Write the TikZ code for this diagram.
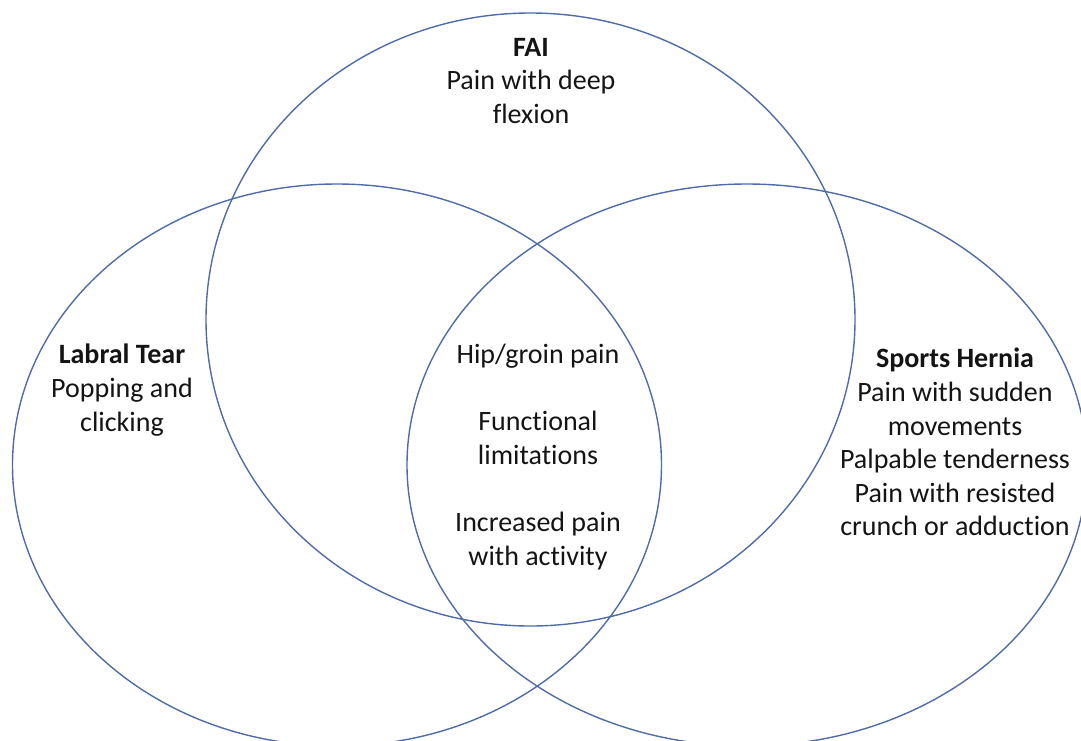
\documentclass[tikz,border=0pt]{standalone}
\usepackage{fontspec}
\setmainfont{Carlito}[Ligatures=NoCommon]
\definecolor{ring}{RGB}{78,108,168}
\definecolor{ink}{RGB}{20,20,20}
\newcommand{\nolig}{\kern0pt }
\begin{document}
\begin{tikzpicture}[x=1pt,y=-1pt,
  ringline/.style={draw=ring,line width=1.4pt},
  lbl/.style={align=center,text=ink,font=\fontsize{28}{33.6}\selectfont,inner sep=0pt}]
\useasboundingbox (0,0) rectangle (1081,740);
\clip (0,0) rectangle (1081,740);
\path[ringline] (530.5,319.5) ellipse [x radius=324.5,y radius=306.5];
\path[ringline] (337,465) ellipse [x radius=324.5,y radius=281];
\path[ringline] (747,465) ellipse [x radius=340,y radius=281];
\node[lbl,anchor=north] (fai) at (531,38) {\textbf{FAI}\\Pain with deep\\flexion};
\node[lbl,anchor=north] (labral) at (122,344) {\textbf{Labral Tear}\\Popping and\\clicking};
\node[lbl,anchor=north] (center) at (538,344) {Hip/groin pain\\[33.6pt]Funct\nolig ional\\limitat\nolig ions\\[33.6pt]Increased pain\\with act\nolig ivity};
\node[lbl,anchor=north] (hernia) at (955,348) {\textbf{Sports Hernia}\\Pain with sudden\\movements\\Palpable tenderness\\Pain with resisted\\crunch or adduct\nolig ion};
\end{tikzpicture}
\end{document}
